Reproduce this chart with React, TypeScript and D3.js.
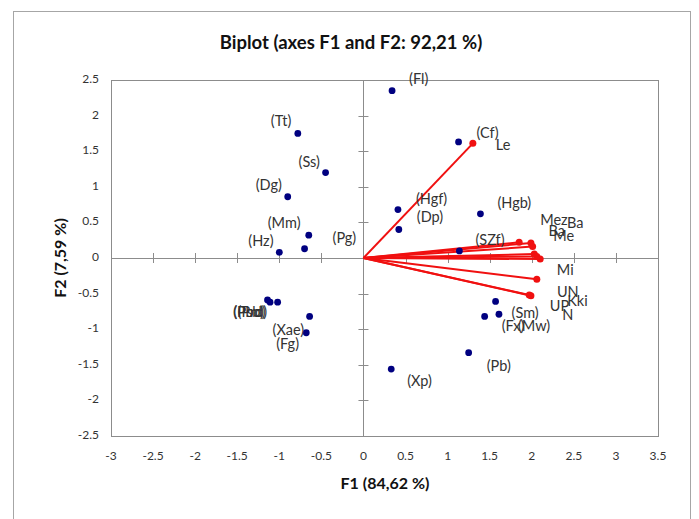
import * as d3 from "d3";
import { useEffect, useRef } from "react";

// observations (F1, F2 scores)
const obsNames = [
  "(Fl)", "(Cf)", "(Tt)", "(Ss)", "(Dg)", "(Mm)", "(Hz)", "(Pg)",
  "(Hgf)", "(Dp)", "(Hgb)", "(SZf)", "(Sm)", "(Fx)", "(Mw)", "(Pb)", "(Xp)",
  "(Psb)", "(Pbd)", "(Prd)", "(Xae)", "(Fg)",
];
const obsF1 = [
  0.34, 1.13, -0.78, -0.45, -0.90, -0.65, -1.00, -0.70,
  0.41, 0.42, 1.39, 1.14, 1.57, 1.44, 1.61, 1.25, 0.33,
  -1.14, -1.11, -1.02, -0.64, -0.68,
];
const obsF2 = [
  2.35, 1.63, 1.75, 1.20, 0.86, 0.32, 0.08, 0.13,
  0.68, 0.40, 0.62, 0.10, -0.61, -0.82, -0.79, -1.33, -1.56,
  -0.59, -0.62, -0.62, -0.82, -1.05,
];

// variables (loadings)
const varNames = ["Le", "Mez", "Ba", "Ba", "Me", "Mi", "UN", "Kki", "UP", "N"];
const varF1 = [1.30, 1.85, 1.99, 2.01, 2.03, 2.06, 1.99, 2.10, 2.06, 1.97];
const varF2 = [1.61, 0.22, 0.21, 0.16, 0.055, -0.30, -0.53, -0.015, 0.02, -0.52];

const xTicks = [-3, -2.5, -2, -1.5, -1, -0.5, 0, 0.5, 1, 1.5, 2, 2.5, 3, 3.5];
const yTicks = [-2.5, -2, -1.5, -1, -0.5, 0, 0.5, 1, 1.5, 2, 2.5];

// label placement (px offsets from the point)
const obsLabelOffset: [number, number][] = [
  [17, -10], [18, -8], [-27, -11], [-27, -9], [-32, -10], [-41, -11], [-31, -10], [28, -9],
  [18, -9], [18, -11], [17, -10], [16, -10], [16, 13], [17, 11], [19, 13], [18, 15], [16, 13],
  [-34, 13], [-37, 11], [-40, 11], [-37, 15], [-30, 13],
];
const varLabelOffset: [number, number][] = [
  [23, 3], [21, -21], [36, -19], [16, -14], [19, -17], [20, -8], [26, -2], [27, 43], [13, 51], [33, 21],
];

const W = 699;
const H = 519;
const font = "Lato, 'Open Sans', sans-serif";

export default function App() {
  const svgRef = useRef<SVGSVGElement | null>(null);

  useEffect(() => {
    if (!svgRef.current) return;
    const svg = d3.select(svgRef.current);
    svg.selectAll("*").remove();

    const x = d3.scaleLinear().domain([-3, 3.5]).range([111, 658]);
    const y = d3.scaleLinear().domain([-2.5, 2.5]).range([436, 80]);

    svg.append("rect").attr("width", W).attr("height", H).attr("fill", "#fff");

    // outer chart frame
    svg
      .append("rect")
      .attr("x", 13.5)
      .attr("y", 11.5)
      .attr("width", 677)
      .attr("height", 530)
      .attr("fill", "none")
      .attr("stroke", "#a6a6a6");

    svg
      .append("text")
      .attr("x", 351)
      .attr("y", 44)
      .attr("text-anchor", "middle")
      .attr("dominant-baseline", "middle")
      .attr("font-family", font)
      .attr("font-weight", "bold")
      .attr("font-size", 18.5)
      .attr("fill", "#111")
      .text("Biplot (axes F1 and F2: 92,21 %)");

    // plot area
    svg
      .append("rect")
      .attr("x", x(-3) + 0.5)
      .attr("y", y(2.5) + 0.5)
      .attr("width", x(3.5) - x(-3))
      .attr("height", y(-2.5) - y(2.5))
      .attr("fill", "none")
      .attr("stroke", "#8c8c8c");

    const g = svg.append("g");
    // zero axes
    g.append("line")
      .attr("x1", x(-3)).attr("x2", x(3.5))
      .attr("y1", Math.round(y(0)) + 0.5).attr("y2", Math.round(y(0)) + 0.5)
      .attr("stroke", "#8c8c8c");
    g.append("line")
      .attr("x1", Math.round(x(0)) + 0.5).attr("x2", Math.round(x(0)) + 0.5)
      .attr("y1", y(2.5)).attr("y2", y(-2.5))
      .attr("stroke", "#8c8c8c");

    g.selectAll("line.xt")
      .data(xTicks.filter((t) => t !== 0 && t !== -3 && t !== 3.5))
      .enter()
      .append("line")
      .attr("x1", (d) => Math.round(x(d)) + 0.5)
      .attr("x2", (d) => Math.round(x(d)) + 0.5)
      .attr("y1", y(0) - 5)
      .attr("y2", y(0) + 5)
      .attr("stroke", "#8c8c8c");
    g.selectAll("line.yt")
      .data(yTicks.filter((t) => t !== 0 && Math.abs(t) !== 2.5))
      .enter()
      .append("line")
      .attr("y1", (d) => Math.round(y(d)) + 0.5)
      .attr("y2", (d) => Math.round(y(d)) + 0.5)
      .attr("x1", x(0) - 5)
      .attr("x2", x(0) + 5)
      .attr("stroke", "#8c8c8c");

    // tick labels
    svg
      .selectAll("text.xl")
      .data(xTicks)
      .enter()
      .append("text")
      .attr("x", (d) => x(d))
      .attr("y", 457)
      .attr("text-anchor", "middle")
      .attr("dominant-baseline", "middle")
      .attr("font-family", font)
      .attr("font-size", 12)
      .attr("fill", "#333")
      .text((d) => String(d));
    svg
      .selectAll("text.yl")
      .data(yTicks)
      .enter()
      .append("text")
      .attr("x", 99)
      .attr("y", (d) => y(d))
      .attr("text-anchor", "end")
      .attr("dominant-baseline", "middle")
      .attr("font-family", font)
      .attr("font-size", 12)
      .attr("fill", "#333")
      .text((d) => String(d));

    svg
      .append("text")
      .attr("x", 385)
      .attr("y", 485)
      .attr("text-anchor", "middle")
      .attr("dominant-baseline", "middle")
      .attr("font-family", font)
      .attr("font-weight", "bold")
      .attr("font-size", 16)
      .attr("fill", "#111")
      .text("F1 (84,62 %)");
    svg
      .append("text")
      .attr("transform", `translate(62,${y(0)}) rotate(-90)`)
      .attr("text-anchor", "middle")
      .attr("dominant-baseline", "middle")
      .attr("font-family", font)
      .attr("font-weight", "bold")
      .attr("font-size", 16)
      .attr("fill", "#111")
      .text("F2 (7,59 %)");

    // variable vectors
    const vars = varNames.map((n, i) => ({ n, f1: varF1[i], f2: varF2[i], off: varLabelOffset[i] }));
    g.selectAll("line.v")
      .data(vars)
      .enter()
      .append("line")
      .attr("x1", x(0))
      .attr("y1", y(0))
      .attr("x2", (d) => x(d.f1))
      .attr("y2", (d) => y(d.f2))
      .attr("stroke", "#f01010")
      .attr("stroke-width", 2);
    g.selectAll("circle.v")
      .data(vars)
      .enter()
      .append("circle")
      .attr("cx", (d) => x(d.f1))
      .attr("cy", (d) => y(d.f2))
      .attr("r", 3.5)
      .attr("fill", "#f01010");

    // observations
    const obs = obsNames.map((n, i) => ({ n, f1: obsF1[i], f2: obsF2[i], off: obsLabelOffset[i] }));
    g.selectAll("circle.o")
      .data(obs)
      .enter()
      .append("circle")
      .attr("cx", (d) => x(d.f1))
      .attr("cy", (d) => y(d.f2))
      .attr("r", 3.4)
      .attr("fill", "#000080");

    g.selectAll("text.o")
      .data(obs)
      .enter()
      .append("text")
      .attr("x", (d) => x(d.f1) + d.off[0])
      .attr("y", (d) => y(d.f2) + d.off[1])
      .attr("dominant-baseline", "middle")
      .attr("font-family", font)
      .attr("font-size", 14.5)
      .attr("fill", "#333")
      .text((d) => d.n);
    g.selectAll("text.v")
      .data(vars)
      .enter()
      .append("text")
      .attr("x", (d) => x(d.f1) + d.off[0])
      .attr("y", (d) => y(d.f2) + d.off[1])
      .attr("dominant-baseline", "middle")
      .attr("font-family", font)
      .attr("font-size", 14.5)
      .attr("fill", "#333")
      .text((d) => d.n);
  }, []);

  return (
    <div style={{ position: "fixed", left: 0, top: 0 }}>
      <svg ref={svgRef} width={W} height={H} viewBox={`0 0 ${W} ${H}`} style={{ display: "block" }} />
    </div>
  );
}
